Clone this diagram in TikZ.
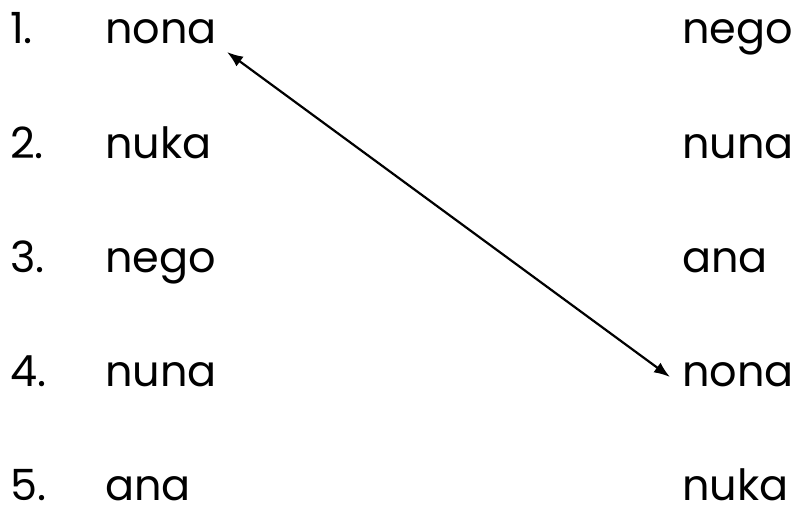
\documentclass[tikz,border=0pt]{standalone}
\usepackage{fontspec}
\setmainfont{Poppins}
\usetikzlibrary{arrows.meta}
\begin{document}
\begin{tikzpicture}[x=1pt,y=1pt,
  word/.style={anchor=base west,inner sep=0pt,font=\fontsize{43}{43}\selectfont},
  link/.style={line width=2.2pt,{Latex[length=16pt,width=12pt]}-{Latex[length=16pt,width=12pt]}}]
\useasboundingbox (0,0) rectangle (797,-511);
\foreach \i/\l/\r [evaluate=\i as \yy using {-44-114*(\i-1)}] in {1/nona/nego,2/nuka/nuna,3/nego/ana,4/nuna/nona,5/ana/nuka}{
  \node[word] (n\i) at (10,\yy) {\i.};
  \node[word] (l\i) at (105,\yy) {\l};
  \node[word] (r\i) at (682,\yy) {\r};
}
\coordinate (s) at ([shift={(10pt,-8pt)}]l1.base east);
\coordinate (e) at ([shift={(-12pt,9pt)}]r4.base west);
\draw[link] (s) -- (e);
\end{tikzpicture}
\end{document}
